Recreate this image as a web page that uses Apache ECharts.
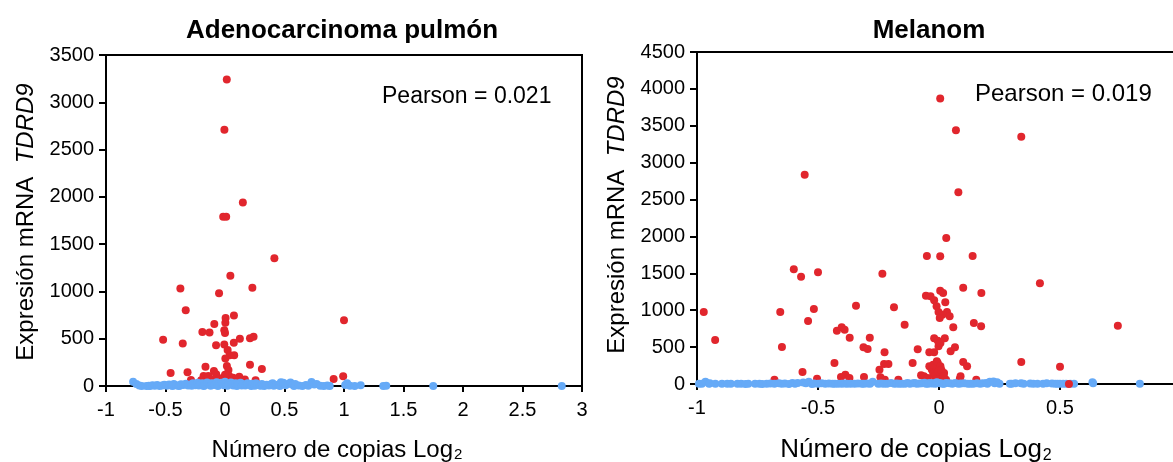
<!DOCTYPE html>
<html>
<head>
<meta charset="utf-8">
<script src="https://cdn.jsdelivr.net/npm/echarts@6/dist/echarts.min.js"></script>
<style>
html,body{margin:0;padding:0;background:#fff;overflow:hidden;}
#chart{width:1173px;height:462px;}
</style>
</head>
<body>
<div id="chart"></div>
<script>
// ---- Data ----
const titles = ['Adenocarcinoma pulmón', 'Melanom'];
const pearsonTexts = ['Pearson = 0.021', 'Pearson = 0.019'];
const xTicksLeft = {min: -1, max: 3, interval: 0.5};
const yTicksLeft = {min: 0, max: 3500, interval: 500};
const xTicksRight = {min: -1, max: 1, interval: 0.5};
const yTicksRight = {min: 0, max: 4500, interval: 500};

const redLeft = [
  [0.015,3240],[-0.005,2710],[0.15,1940],[-0.015,1790],[0.01,1790],[0.415,1350],[0.045,1165],
  [0.23,1040],[-0.375,1030],[-0.05,980],[-0.33,800],[1.0,695],[0.075,745],[0.005,720],[0.003,670],
  [-0.09,655],[-0.19,570],[-0.13,565],[-0.006,590],[0.0,560],[-0.52,490],[-0.355,450],[0.125,500],
  [0.21,505],[0.24,520],[-0.075,430],[-0.006,440],[0.074,457],[0.022,380],[0.04,324],[0.077,324],
  [0.003,290],[0.21,225],[0.31,180],[-0.164,204],[-0.457,137],[-0.315,145],[-0.093,158],[-0.074,125],
  [0.016,211],[0.029,169],[-0.18,105],[-0.14,105],[0.035,105],[0.068,88],[0.12,98],[-0.286,63],
  [0.167,70],[0.257,60],[0.913,75],[0.993,102],[-0.05,70],[-0.02,85],[0.0,120],[0.01,60],[0.05,55],
  [0.09,65],[-0.11,70],[0.14,55],[-0.2,60]
];
const blueLeft = [
  [-0.772,46],[-0.745,20],[-0.72,5],[-0.70,0],[-0.66,0],[-0.64,3],[-0.63,0],[-0.61,8],[-0.59,2],
  [-0.57,10],[-0.55,0],[-0.53,6],[-0.51,12],[-0.49,3],[-0.47,15],[-0.45,5],[-0.44,0],[-0.43,20],
  [-0.41,8],[-0.39,0],[-0.38,3],[-0.37,18],[-0.35,10],[-0.33,25],[-0.31,5],[-0.29,15],[-0.28,2],
  [-0.27,30],[-0.25,8],[-0.23,35],[-0.22,5],[-0.21,12],[-0.19,28],[-0.18,0],[-0.17,4],[-0.15,38],
  [-0.13,18],[-0.12,3],[-0.11,30],[-0.09,10],[-0.07,40],[-0.06,0],[-0.05,22],[-0.03,35],[-0.02,20],
  [-0.01,8],[0.0,45],[0.01,25],[0.02,2],[0.03,15],[0.05,38],[0.06,20],[0.07,5],[0.09,28],[0.1,0],
  [0.11,12],[0.13,35],[0.14,4],[0.15,20],[0.17,6],[0.18,15],[0.19,30],[0.21,14],[0.22,0],[0.23,25],
  [0.25,3],[0.26,30],[0.27,18],[0.29,8],[0.30,2],[0.31,22],[0.33,0],[0.35,12],[0.37,5],[0.39,20],
  [0.40,30],[0.41,2],[0.43,10],[0.45,15],[0.46,0],[0.47,40],[0.49,35],[0.51,8],[0.53,20],[0.55,38],
  [0.57,12],[0.58,0],[0.59,22],[0.62,5],[0.65,0],[0.68,10],[0.70,2],[0.727,42],[0.75,15],[0.77,20],
  [0.80,2],[0.83,0],[0.86,5],[0.88,0],[1.01,10],[1.026,28],[1.05,2],[1.09,0],[1.14,7],[1.33,0],
  [1.355,2],[1.75,0],[2.83,0]
];
const redRight = [
  [0.005,3870],[0.07,3440],[0.34,3350],[-0.555,2835],[0.08,2600],[0.03,1980],[-0.05,1735],[0.005,1730],
  [0.139,1735],[-0.6,1555],[-0.57,1455],[-0.5,1515],[-0.234,1495],[0.417,1365],[0.1,1305],[0.005,1265],
  [0.017,1235],[0.175,1235],[-0.054,1197],[-0.035,1188],[-0.02,1134],[0.026,1107],[-0.343,1062],
  [-0.186,1039],[-0.517,1017],[-0.972,976],[-0.656,976],[-0.01,1053],[-0.002,976],[0.033,976],
  [0.014,940],[0.044,917],[0.003,895],[-0.541,854],[-0.142,804],[0.144,827],[0.174,782],[0.059,768],
  [0.739,791],[-0.402,768],[-0.39,737],[-0.422,723],[-0.925,596],[-0.369,628],[-0.286,628],[-0.02,619],
  [-0.005,587],[0.024,619],[-0.649,502],[-0.312,497],[-0.295,474],[-0.088,470],[-0.225,429],[-0.04,429],
  [-0.02,429],[-0.002,510],[0.006,556],[0.048,443],[0.066,497],[0.34,298],[-0.432,285],[-0.227,271],
  [-0.209,271],[-0.109,285],[-0.005,285],[0.1,298],[0.116,240],[0.5,235],[-0.246,194],[-0.564,163],
  [-0.387,127],[-0.37,81],[-0.405,95],[-0.31,95],[-0.242,90],[-0.224,59],[-0.168,59],[-0.074,117],
  [-0.062,104],[-0.68,59],[-0.504,72],[0.086,68],[0.089,104],[0.154,59],
  [-0.04,240],[-0.03,195],[-0.024,150],[-0.017,104],[-0.009,217],[-0.002,172],[0.006,127],[0.014,81],
  [-0.024,262],[-0.009,307],[0.006,240],[0.021,150],[0.029,59],[-0.047,81],[-0.002,59],[0.01,190],
  [-0.015,60],[0.02,100]
];
const redRightTop = [[0.537,0]];
const blueRight = [
  [-0.992,5],[-0.98,3],[-0.965,30],[-0.95,2],[-0.947,10],[-0.924,5],[-0.897,3],[-0.875,2],[-0.86,5],
  [-0.833,4],[-0.818,3],[-0.80,0],[-0.788,5],[-0.76,2],[-0.742,4],[-0.73,0],[-0.712,3],[-0.697,6],
  [-0.68,2],[-0.662,10],[-0.65,3],[-0.637,8],[-0.62,0],[-0.606,12],[-0.595,5],[-0.584,15],[-0.561,20],
  [-0.55,10],[-0.538,30],[-0.525,0],[-0.516,8],[-0.50,2],[-0.485,10],[-0.47,5],[-0.455,6],[-0.44,3],
  [-0.43,2],[-0.417,5],[-0.402,4],[-0.39,8],[-0.38,3],[-0.365,2],[-0.349,5],[-0.335,8],[-0.319,4],
  [-0.31,2],[-0.296,6],[-0.285,5],[-0.274,30],[-0.251,3],[-0.24,8],[-0.228,5],[-0.215,2],[-0.198,15],
  [-0.185,5],[-0.175,8],[-0.165,2],[-0.153,4],[-0.14,5],[-0.13,15],[-0.12,3],[-0.107,10],[-0.10,12],
  [-0.092,4],[-0.08,6],[-0.07,10],[-0.06,18],[-0.054,3],[-0.045,5],[-0.039,15],[-0.03,8],[-0.024,10],
  [-0.015,2],[-0.009,25],[0.0,15],[0.006,10],[0.015,5],[0.021,4],[0.03,12],[0.044,10],[0.055,5],
  [0.067,15],[0.08,3],[0.09,8],[0.104,10],[0.119,4],[0.13,2],[0.142,5],[0.157,10],[0.17,3],[0.18,10],
  [0.195,15],[0.20,2],[0.21,30],[0.225,35],[0.23,10],[0.24,25],[0.25,5],[0.293,4],[0.30,2],[0.316,10],
  [0.339,10],[0.35,3],[0.377,8],[0.39,5],[0.407,3],[0.43,2],[0.445,10],[0.467,8],[0.48,5],[0.49,3],
  [0.50,2],[0.513,4],[0.525,2],[0.543,3],[0.558,5],[0.634,25],[0.637,10],[0.83,5]
];

// ---- Styles ----
const FONT = '"Liberation Sans", Arial, Helvetica, sans-serif';
const RED = '#e1262d';
const BLUE = '#66aaf7';

function xAxisCfg(gi, t) {
  return {
    type: 'value', gridIndex: gi, min: t.min, max: t.max, interval: t.interval,
    axisLine: {show: true, onZero: false, lineStyle: {color: '#000', width: 2}},
    axisTick: {show: true, inside: false, length: 6, lineStyle: {color: '#000', width: 2}},
    axisLabel: {show: true, color: '#000', fontSize: 20, fontFamily: FONT, margin: 14,
      showMinLabel: true, showMaxLabel: true, hideOverlap: false,
      formatter: function (v) { return String(v); }},
    splitLine: {show: false}
  };
}
function yAxisCfg(gi, t) {
  return {
    type: 'value', gridIndex: gi, min: t.min, max: t.max, interval: t.interval,
    axisLine: {show: true, onZero: false, lineStyle: {color: '#000', width: 2}},
    axisTick: {show: true, inside: false, length: 7, lineStyle: {color: '#000', width: 2}},
    axisLabel: {show: true, color: '#000', fontSize: 20, fontFamily: FONT, margin: 12,
      formatter: function (v) { return String(v); }},
    splitLine: {show: false}
  };
}
function scatter(xi, data, color, z) {
  return {
    type: 'scatter', xAxisIndex: xi, yAxisIndex: xi, data: data, symbol: 'circle', symbolSize: 8,
    itemStyle: {color: color, opacity: 1}, clip: false, z: z, animation: false, silent: true
  };
}
function text(x, y, str, opts) {
  return {
    type: 'text', x: x, y: y, silent: true, z: 100,
    style: Object.assign({text: str, fill: '#000', fontFamily: FONT, fontSize: 23,
      align: 'center', verticalAlign: 'middle'}, opts || {})
  };
}
const yNameRich = {
  a: {fontSize: 24, fontFamily: FONT, color: '#000'},
  b: {fontSize: 24, fontFamily: FONT, fontStyle: 'italic', color: '#000'}
};
const xNameRich = {
  a: {fontSize: 24, fontFamily: FONT, color: '#000'},
  s: {fontSize: 15, fontFamily: FONT, color: '#000', padding: [10, 0, 0, 1]}
};
const xNameRich2 = {
  a: {fontSize: 26, fontFamily: FONT, color: '#000'},
  s: {fontSize: 16, fontFamily: FONT, color: '#000', padding: [11, 0, 0, 1]}
};

const chart = echarts.init(document.getElementById('chart'), null, {renderer: 'canvas'});
chart.setOption({
  backgroundColor: '#fff',
  animation: false,
  grid: [
    {left: 106, top: 55, width: 476, height: 331, show: true, borderColor: '#000', borderWidth: 2,
      backgroundColor: 'transparent', containLabel: false, outerBoundsMode: 'none'},
    {left: 697, top: 52, width: 484, height: 332, show: true, borderColor: '#000', borderWidth: 2,
      backgroundColor: 'transparent', containLabel: false, outerBoundsMode: 'none'}
  ],
  xAxis: [xAxisCfg(0, xTicksLeft), xAxisCfg(1, xTicksRight)],
  yAxis: [yAxisCfg(0, yTicksLeft), yAxisCfg(1, yTicksRight)],
  series: [
    scatter(0, redLeft, RED, 2),
    scatter(0, blueLeft, BLUE, 3),
    scatter(1, redRight, RED, 2),
    scatter(1, blueRight, BLUE, 3),
    scatter(1, redRightTop, RED, 4)
  ],
  graphic: [
    text(342, 31, titles[0], {fontSize: 26, fontWeight: 'bold'}),
    text(929, 31, titles[1], {fontSize: 26, fontWeight: 'bold'}),
    text(382, 97, pearsonTexts[0], {align: 'left'}),
    text(975, 94, pearsonTexts[1], {align: 'left', fontSize: 24}),
    Object.assign(text(26, 222, '{a|Expresión mRNA  }{b|TDRD9}', {rich: yNameRich}), {rotation: Math.PI / 2}),
    Object.assign(text(617, 215, '{a|Expresión mRNA  }{b|TDRD9}', {rich: yNameRich}), {rotation: Math.PI / 2}),
    text(337, 450, '{a|Número de copias Log}{s|2}', {rich: xNameRich}),
    text(916, 450, '{a|Número de copias Log}{s|2}', {rich: xNameRich2})
  ]
});
</script>
</body>
</html>
